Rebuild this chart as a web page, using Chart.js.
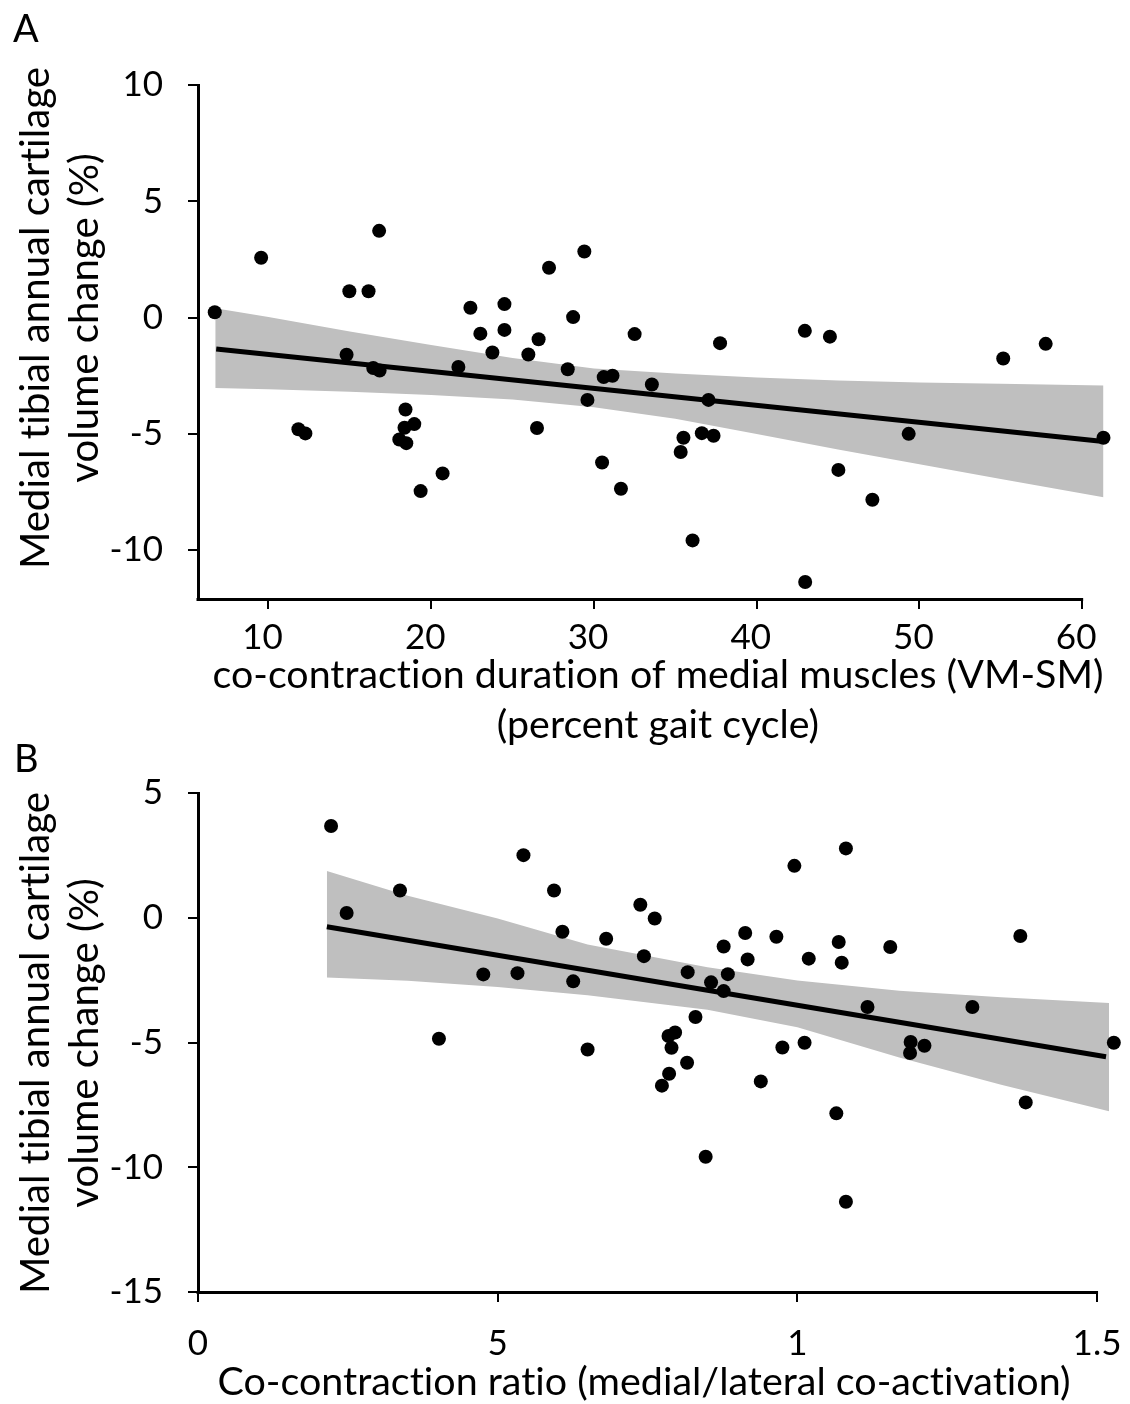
<!DOCTYPE html>
<html><head><meta charset="utf-8">
<script src="https://cdn.jsdelivr.net/npm/chart.js@4.4.1/dist/chart.umd.min.js"></script>
<style>
html,body{margin:0;padding:0;background:#fff;}
#wrap{position:relative;width:1130px;height:1404px;overflow:hidden;background:#fff;}
canvas{position:absolute;left:0;}
#cA{top:0;} #cB{top:735px;}
</style></head><body>
<div id="wrap"><canvas id="cA" width="1130" height="760"></canvas><canvas id="cB" width="1130" height="669"></canvas></div>
<script>
const FONT = "Lato, 'Open Sans', sans-serif";

// ---------- Panel A ----------
const aX = [6.7,9.55,11.84,12.27,14.97,16.15,16.8,14.8,16.44,16.83,18.42,18.36,18.96,18.04,18.47,20.7,19.35,21.67,22.41,23.02,24.5,24.5,23.76,25.97,26.6,26.5,27.24,28.39,28.72,29.41,29.6,30.6,31.14,30.5,31.66,32.5,33.56,37.75,42.96,44.5,55.15,57.76,37.04,49.34,61.31,35.5,36.63,37.35,35.33,45.02,47.11,36.06,42.98];
const aY = [0.23,2.57,-4.8,-4.98,1.13,1.13,3.73,-1.6,-2.17,-2.28,-3.95,-4.74,-4.58,-5.24,-5.4,-6.7,-7.46,-2.12,0.42,-0.69,0.58,-0.53,-1.5,-1.59,-0.93,-4.75,2.14,-2.22,0.02,2.84,-3.54,-2.56,-2.5,-6.23,-7.36,-0.71,-2.88,-1.1,-0.57,-0.82,-1.76,-1.13,-3.54,-5.0,-5.17,-5.17,-4.97,-5.08,-5.78,-6.55,-7.83,-9.58,-11.37];
const aBandX = [6.73,10,15,20,25,30,35,40,45,50,55,61.31];
const aBandUpper = [0.40,0.02,-0.60,-1.18,-1.74,-2.19,-2.40,-2.58,-2.71,-2.79,-2.85,-2.92];
const aBandLower = [-3.03,-3.08,-3.19,-3.33,-3.52,-3.86,-4.35,-5.01,-5.67,-6.31,-6.94,-7.72];
const aFitX = [6.79, 61.31];
const aFitY = [-1.35, -5.33];
const aXTicks = [10,20,30,40,50,60];
const aYTicks = [-10,-5,0,5,10];

// ---------- Panel B ----------
const bX = [0.222,0.248,0.337,0.402,0.476,0.533,0.543,0.594,0.608,0.626,0.650,0.681,0.738,0.762,0.744,0.817,0.830,0.796,0.785,0.790,0.816,0.786,0.774,0.847,1.081,0.995,0.913,0.965,0.877,0.917,1.069,1.155,1.372,1.019,1.074,0.884,0.856,0.877,1.117,1.292,0.975,1.012,1.189,1.212,1.188,1.528,0.939,1.065,1.381,1.081];
const bY = [3.68,0.19,1.09,-4.85,-2.27,-2.22,2.51,1.09,-0.56,-2.55,-5.28,-0.84,0.52,-0.03,-1.54,-2.18,-3.98,-4.6,-4.74,-5.21,-5.81,-6.25,-6.73,-9.58,2.78,2.08,-0.61,-0.76,-1.15,-1.67,-0.97,-1.17,-0.73,-1.64,-1.80,-2.26,-2.59,-2.94,-3.58,-3.58,-5.2,-5.01,-4.98,-5.13,-5.42,-5.01,-6.56,-7.84,-7.40,-11.38];
const bBandX = [0.215,0.35,0.5,0.65,0.85,1.0,1.17,1.34,1.52];
const bBandUpper = [1.87,0.88,-0.03,-1.07,-1.98,-2.52,-2.93,-3.19,-3.42];
const bBandLower = [-2.39,-2.53,-2.78,-3.11,-3.69,-4.39,-5.6,-6.69,-7.76];
const bFitX = [0.215, 1.515];
const bFitY = [-0.36, -5.57];
const bXTicks = [0,0.5,1,1.5];
const bXTickLabels = ['0','5','1','1.5'];
const bYTicks = [-15,-10,-5,0,5];

const pts = (xs, ys) => xs.map((x, i) => ({x, y: ys[i]}));

// free text (panel letters, axis titles)
const textPlugin = {
  id: 'texts',
  afterDraw(chart, args, opts) {
    const ctx = chart.ctx;
    (opts.groups || []).forEach(g => {
      ctx.save();
      ctx.fillStyle = '#000';
      try { ctx.letterSpacing = '0.01px'; } catch (e) {}
      try { ctx.textRendering = 'optimizeSpeed'; } catch (e) {}
      let size = g.size;
      if (g.fitWidth) {
        ctx.font = '100px ' + FONT;
        size = 100 * g.fitWidth / ctx.measureText(g.lines[0]).width;
      }
      ctx.font = size + 'px ' + FONT;
      ctx.textAlign = g.align || 'center';
      ctx.textBaseline = 'alphabetic';
      g.lines.forEach((t, i) => {
        const p = g.pos[i];
        ctx.save();
        ctx.translate(p[0], p[1]);
        if (g.rotate) ctx.rotate(g.rotate);
        ctx.fillText(t, 0, 0);
        ctx.restore();
      });
      ctx.restore();
    });
  }
};

// x axis line that stops at the last tick (data may run past it)
const axisLinePlugin = {
  id: 'xAxisLine',
  afterDraw(chart, args, opts) {
    const ctx = chart.ctx, xs = chart.scales.x, area = chart.chartArea;
    const y = Math.round(area.bottom) + 0.5;
    ctx.save();
    ctx.strokeStyle = '#000';
    ctx.lineWidth = 3;
    ctx.beginPath();
    ctx.moveTo(area.left - 1.5, y);
    ctx.lineTo(xs.getPixelForValue(opts.end) + 1, y);
    ctx.stroke();
    ctx.restore();
  }
};

function build(canvas, o) {
  return new Chart(canvas, {
    type: 'line',
    data: {
      datasets: [
        {data: pts(o.x, o.y), showLine: false, pointRadius: 7, pointBackgroundColor: '#000', pointBorderWidth: 0, clip: false},
        {data: pts(o.fitX, o.fitY), borderColor: '#000', borderWidth: 5, pointRadius: 0, fill: false, clip: false},
        {data: pts(o.bandX, o.bandUpper), borderWidth: 0, borderColor: 'rgba(0,0,0,0)', pointRadius: 0, fill: '+1', backgroundColor: '#bfbfbf', clip: false},
        {data: pts(o.bandX, o.bandLower), borderWidth: 0, borderColor: 'rgba(0,0,0,0)', pointRadius: 0, fill: false, clip: false}
      ]
    },
    options: {
      responsive: false,
      animation: false,
      events: [],
      devicePixelRatio: 1,
      layout: {padding: o.padding},
      plugins: {legend: {display: false}, tooltip: {enabled: false}, texts: {groups: o.texts}, xAxisLine: {end: o.xAxisEnd}},
      elements: {line: {tension: 0}},
      scales: {
        x: {
          type: 'linear', min: o.xMin, max: o.xMax,
          afterBuildTicks: s => { s.ticks = o.xTicks.map(v => ({value: v})); },
          afterFit: s => { s.height = o.xHeight; s.paddingLeft = 0; s.paddingRight = 0; },
          ticks: {font: {family: FONT, size: 35, lineHeight: 1.2}, color: '#000', padding: o.xPad, labelOffset: o.xLabelOffset, maxRotation: 0, autoSkip: false,
                  callback: (v, i) => o.xLabels ? o.xLabels[i] : String(v)},
          grid: {drawOnChartArea: false, drawTicks: true, tickLength: 10, lineWidth: 2, color: '#000'},
          border: {display: false}
        },
        y: {
          type: 'linear', min: o.yMin, max: o.yMax,
          afterBuildTicks: s => { s.ticks = o.yTicks.map(v => ({value: v})); },
          afterFit: s => { s.width = 198; s.paddingTop = 0; s.paddingBottom = 0; },
          ticks: {font: {family: FONT, size: 35, lineHeight: 1.2}, color: '#000', padding: 25, autoSkip: false, callback: v => String(v)},
          grid: {drawOnChartArea: false, drawTicks: true, tickLength: 10, lineWidth: 2, color: '#000'},
          border: {display: true, color: '#000', width: 3}
        }
      }
    },
    plugins: [textPlugin, axisLinePlugin]
  });
}

build(document.getElementById('cA'), {
  x: aX, y: aY, fitX: aFitX, fitY: aFitY, bandX: aBandX, bandUpper: aBandUpper, bandLower: aBandLower,
  xMin: 5.67, xMax: 62.51, xAxisEnd: aXTicks[aXTicks.length - 1], yMin: -12.1, yMax: 10, xTicks: aXTicks, yTicks: aYTicks,
  padding: {top: 85, right: 4, bottom: 0, left: 0}, xHeight: 161, xPad: 8, xLabelOffset: -6,
  texts: [
    {lines: ['A'], pos: [[13, 42]], size: 38, align: 'left'},
    {lines: ['Medial tibial annual cartilage', 'volume change (%)'], pos: [[49, 318], [98, 318]], fitWidth: 502, rotate: -Math.PI / 2},
    {lines: ['co-contraction duration of medial muscles (VM-SM)', '(percent gait cycle)'], pos: [[658, 688], [658, 738]], fitWidth: 891}
  ]
});

build(document.getElementById('cB'), {
  x: bX, y: bY, fitX: bFitX, fitY: bFitY, bandX: bBandX, bandUpper: bBandUpper, bandLower: bBandLower,
  xMin: 0, xMax: 1.5433, xAxisEnd: bXTicks[bXTicks.length - 1], yMin: -15, yMax: 5, xTicks: bXTicks, yTicks: bYTicks, xLabels: bXTickLabels,
  padding: {top: 58, right: 4, bottom: 0, left: 0}, xHeight: 112, xPad: 21, xLabelOffset: 0,
  texts: [
    {lines: ['B'], pos: [[14, 37]], size: 38, align: 'left'},
    {lines: ['Medial tibial annual cartilage', 'volume change (%)'], pos: [[49, 308], [98, 308]], fitWidth: 502, rotate: -Math.PI / 2},
    {lines: ['Co-contraction ratio (medial/lateral co-activation)'], pos: [[644, 660]], fitWidth: 853}
  ]
});
</script>
</body></html>
